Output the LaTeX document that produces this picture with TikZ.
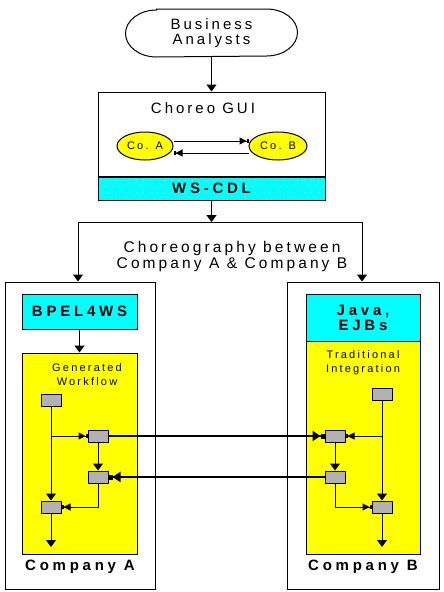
\documentclass[tikz,border=0pt]{standalone}
\usepackage{fontspec}
\setmainfont[LetterSpace=20,BoldFeatures={LetterSpace=25}]{Liberation Sans}
\usetikzlibrary{arrows.meta,shapes.geometric}
\definecolor{cdlcyan}{RGB}{0,255,255}
\definecolor{flowyellow}{RGB}{255,255,0}
\definecolor{blockgray}{RGB}{178,178,178}
\newcommand\bigtext{\fontsize{15}{15}\selectfont}
\newcommand\smalltext{\fontsize{11}{14}\selectfont}
\newcommand\flowblock[3]{%
  \node[block] (#1) at (#2,#3) {}
}
\tikzset{
  box/.style={draw,inner sep=0pt},
  block/.style={draw,fill=blockgray,minimum width=20pt,minimum height=12pt,inner sep=0pt},
  varr/.style={-{Triangle[length=7pt,width=10pt]}},
  harr/.style={-{Triangle[length=7pt,width=7pt,sep=0pt]Rectangle[length=2pt,width=4pt]}},
  bigarr/.style={line width=2.5pt,-{Triangle[length=8pt,width=10pt,sep=0pt]Rectangle[length=4pt,width=5pt]}},
}
\begin{document}
\begin{tikzpicture}[x=1pt,y=-1pt,line width=1pt]
        \useasboundingbox (0,0) rectangle (444,592);
        % Analysts and the choreography tool
        \node[minimum width=171pt,minimum height=47pt,inner sep=0pt,align=center,font=\bigtext] (analysts) at (211.5,33) {Business\\Analysts};
        \draw ([xshift=31pt]analysts.north west) -- ([xshift=-31pt]analysts.north east)
          arc[start angle=-90,end angle=90,x radius=31,y radius=23.5]
          -- ([xshift=31pt]analysts.south west)
          arc[start angle=90,end angle=270,x radius=31,y radius=23.5] -- cycle;
        \node[box,minimum width=227pt,minimum height=84pt] (gui) at (211.5,134) {};
        \node[font=\bigtext] (guilabel) at (203,108) {Choreo GUI};
        \node[box,fill=cdlcyan,minimum width=227pt,minimum height=23pt,anchor=north] (cdl) at (gui.south) {};
        \foreach \row/\off in {180/0,186/3.5,192/0,197/3.5}
          \foreach \col in {0,7,...,217}
            \fill[white] (101+\off+\col,\row) rectangle +(1,1);
        \node[font=\bigtext\bfseries] (cdllabel) at (cdl.center) {WS-CDL};
        \draw[line width=2pt] (gui.south west) -- (gui.south east);
        \node[draw,ellipse,fill=flowyellow,minimum width=56pt,minimum height=28pt,inner sep=0pt,font=\smalltext] (coA) at (145,146) {Co. A};
        \node[draw,ellipse,fill=flowyellow,minimum width=58pt,minimum height=28pt,inner sep=0pt,font=\smalltext] (coB) at (278,146) {Co. B};
        \draw[harr] ([yshift=5pt]coA.east) -- ([yshift=5pt]coB.west);
        \draw[harr] ([yshift=-7pt]coB.west) -- ([yshift=-7pt]coA.east);
        \draw[varr] (analysts.south) -- (gui.north);

        % Split to both companies
        \coordinate (split) at (211.5,222);
        \coordinate (splitL) at (78,222);
        \coordinate (splitR) at (362,222);
        \draw[varr] (cdl.south) -- (split);
        \draw (splitL) -- (splitR);
        \node[align=center,font=\fontsize{15.5}{16}\selectfont] (choreo) at (232,256) {Choreography between\\Company A \& Company B};

        % Company A
        \node[box,minimum width=150pt,minimum height=307pt] (compA) at (80,435.5) {};
        \node[box,fill=cdlcyan,minimum width=115pt,minimum height=35pt,font=\bigtext\bfseries] (bpel) at (79.5,311.5) {BPEL4WS};
        \node[box,fill=flowyellow,minimum width=115pt,minimum height=201pt] (flowA) at (79.5,453.5) {};
        \node[align=center,font=\smalltext] (genlabel) at (87,375) {Generated\\Workflow};
        \node[font=\bigtext\bfseries] (labelA) at (80,567) {Company A};
        \draw[varr] (splitL) -- (splitL |- compA.north);
        \draw[varr] (bpel.south) -- (flowA.north);
        \flowblock{A1}{51}{400.5};
        \flowblock{A2}{98}{436};
        \flowblock{A3}{98}{477};
        \flowblock{A4}{51}{507};
        \coordinate (endA) at (51,547);
        \draw[varr] (A1.south) -- (A4.north);
        \draw[harr] (A1.south |- A2) -- (A2.west);
        \draw[varr] (A2.south) -- (A3.north);
        \draw[harr] (A3.south) |- (A4.east);
        \draw[varr] (A4.south) -- (endA);

        % Company B
        \node[box,minimum width=152pt,minimum height=307pt] (compB) at (363,435.5) {};
        \node[box,fill=cdlcyan,minimum width=114pt,minimum height=47pt,align=center,font=\fontsize{15}{14.5}\selectfont\bfseries] (java) at (363,318) {Java,\\EJBs};
        \node[box,fill=flowyellow,minimum width=114pt,minimum height=213pt] (flowB) at (363,447.5) {};
        \node[align=center,font=\smalltext] (tradlabel) at (363,363) {Traditional\\Integration};
        \node[font=\bigtext\bfseries] (labelB) at (363,567) {Company B};
        \draw[varr] (splitR) -- (splitR |- compB.north);
        \flowblock{B1}{382}{394.5};
        \flowblock{B2}{335}{436};
        \flowblock{B3}{335}{477};
        \flowblock{B4}{382}{507};
        \coordinate (endB) at (382,547);
        \draw[varr] (B1.south) -- (B4.north);
        \draw[harr] (B1.south |- B2) -- (B2.east);
        \draw[varr] (B2.south) -- (B3.north);
        \draw[harr] (B3.south) |- (B4.west);
        \draw[varr] (B4.south) -- (endB);

        % Messages between the companies
        \draw[bigarr] (A2.east) -- (B2.west);
        \draw[bigarr] (B3.west) -- (A3.east);
    \end{tikzpicture}
\end{document}
